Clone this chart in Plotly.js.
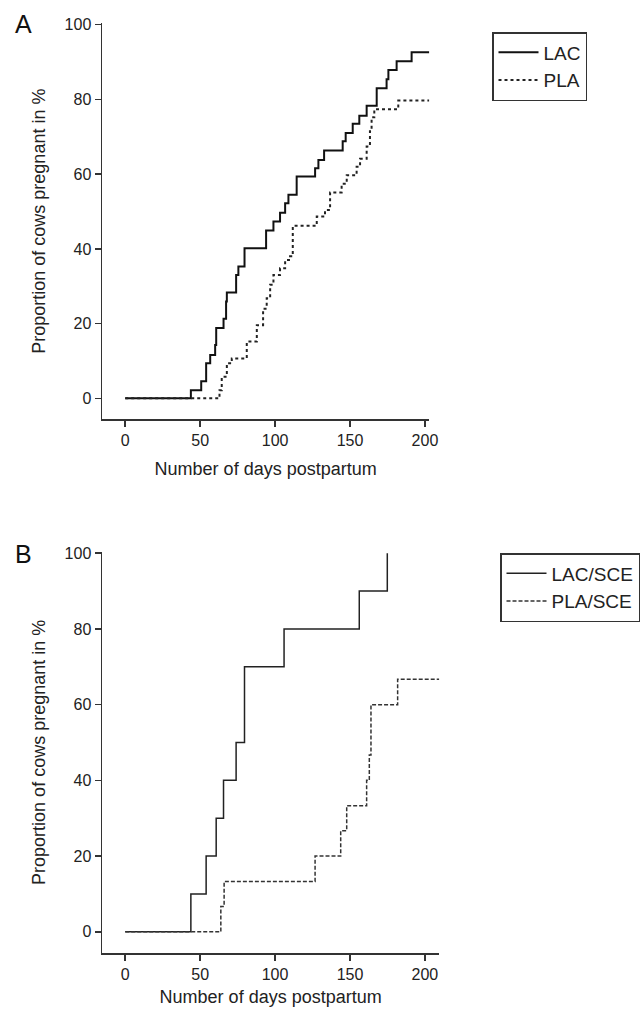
<!DOCTYPE html>
<html>
<head>
<meta charset="utf-8">
<script src="https://cdn.plot.ly/plotly-3.0.1.min.js"></script>
<style>html,body{margin:0;padding:0;background:#fff;}#chart{width:640px;height:1009px;}</style>
</head>
<body>
<div id="chart"></div>
<script>
// Panel A
const lacDays = [0, 43.8, 50.7, 54, 56.7, 60, 60.7, 65.6, 67.3, 67.8, 74, 75.5, 79.6, 94, 98.9, 103.3, 106.7, 108.9, 114.4, 126.7, 128.9, 132.7, 145.1, 147.1, 151.8, 156.2, 161.1, 167.8, 174.4, 175.6, 181.1, 191.1, 202.9];
const lacPct  = [0, 2.2, 4.6, 9.4, 11.6, 14.3, 18.8, 21.3, 25.9, 28.3, 33.0, 35.3, 40.2, 44.9, 47.3, 49.7, 52.2, 54.5, 59.4, 61.6, 63.8, 66.3, 68.8, 71.0, 73.5, 75.6, 78.3, 83.0, 85.4, 87.9, 90.2, 92.6, 92.6];
const plaDays = [0, 62.9, 64.4, 67.8, 71.1, 81.1, 87.8, 92, 94.4, 96.7, 98.9, 103.3, 106.7, 110, 111.8, 127.8, 133.3, 136.7, 144.4, 147.8, 154.4, 156.7, 161.1, 163.3, 164.4, 166.2, 182.2, 202.9];
const plaPct  = [0, 2.2, 5.8, 9.4, 10.7, 15.2, 19.6, 24.0, 26.8, 30.4, 33.0, 34.8, 37.0, 38.0, 46.2, 48.7, 50.4, 55.1, 57.4, 59.7, 62.0, 64.1, 67.4, 71.5, 75.2, 77.4, 79.7, 79.7];
// Panel B
const lacSceDays = [0, 43.8, 54, 60.7, 65.6, 74, 79.6, 106, 156.2, 174.9];
const lacScePct  = [0, 10, 20, 30, 40, 50, 70, 80, 90, 100];
const plaSceDays = [0, 63.8, 66, 126.7, 143.8, 147.8, 161.1, 162.9, 164, 181.8, 209.6];
const plaScePct  = [0, 6.7, 13.3, 20, 26.7, 33.3, 40, 46.7, 60, 66.7, 66.7];

const yTitle = 'Proportion of cows pregnant in %';
const xTitle = 'Number of days postpartum';

const W = 640, H = 1009;
const mL = 102, mT = 23, mB = 56, mR = 0;
const pw = W - mL - mR, ph = H - mT - mB;
const fx = px => (px - mL) / pw;
const fy = py => (H - mB - py) / ph;

const FONT = 'Liberation Sans, Arial, sans-serif';
const TXT = '#222';
const AX = '#333';

const traces = [
  {x: lacDays, y: lacPct, name: 'LAC', mode: 'lines', line: {shape: 'hv', color: '#111', width: 2}, xaxis: 'x', yaxis: 'y', legend: 'legend'},
  {x: plaDays, y: plaPct, name: 'PLA', mode: 'lines', line: {shape: 'hv', color: '#222', width: 2, dash: '3px,3px'}, xaxis: 'x', yaxis: 'y', legend: 'legend'},
  {x: lacSceDays, y: lacScePct, name: 'LAC/SCE', mode: 'lines', line: {shape: 'hv', color: '#222', width: 1.5}, xaxis: 'x2', yaxis: 'y2', legend: 'legend2'},
  {x: plaSceDays, y: plaScePct, name: 'PLA/SCE', mode: 'lines', line: {shape: 'hv', color: '#333', width: 1.5, dash: '4px,2px'}, xaxis: 'x2', yaxis: 'y2', legend: 'legend2'}
];

const axCommon = {
  showline: true, linecolor: AX, linewidth: 1.5, showgrid: false, zeroline: false,
  ticks: 'outside', ticklen: 6, tickwidth: 1.5, tickcolor: AX,
  tickfont: {family: FONT, size: 16, color: TXT}, fixedrange: true
};

const layout = {
  width: W, height: H,
  margin: {l: mL, r: mR, t: mT, b: mB},
  paper_bgcolor: '#fff', plot_bgcolor: '#fff',
  font: {family: FONT, color: TXT},
  showlegend: true,
  xaxis: Object.assign({}, axCommon, {
    domain: [0, fx(429.3)], range: [-15.5, 202.9], tick0: 0, dtick: 50, anchor: 'y',
    title: {text: xTitle, font: {family: FONT, size: 18, color: TXT}, standoff: 14}
  }),
  yaxis: Object.assign({}, axCommon, {
    domain: [fy(419.3), 1], range: [-5.6, 100.45], tick0: 0, dtick: 20, anchor: 'x',
    title: {text: yTitle, font: {family: FONT, size: 18, color: TXT}, standoff: 14}
  }),
  xaxis2: Object.assign({}, axCommon, {
    domain: [0, fx(439.3)], range: [-15.5, 209.6], tick0: 0, dtick: 50, anchor: 'y2',
    title: {text: xTitle, font: {family: FONT, size: 18, color: TXT}, standoff: 8}
  }),
  yaxis2: Object.assign({}, axCommon, {
    domain: [0, fy(551.7)], range: [-5.6, 100.4], tick0: 0, dtick: 20, anchor: 'x2',
    title: {text: yTitle, font: {family: FONT, size: 18, color: TXT}, standoff: 14}
  }),
  legend: {
    x: fx(492), y: fy(32), xanchor: 'left', yanchor: 'top',
    bordercolor: AX, borderwidth: 1.5, bgcolor: '#fff',
    font: {family: FONT, size: 19, color: TXT}, itemwidth: 40, tracegroupgap: 0
  },
  legend2: {
    x: fx(500), y: fy(553), xanchor: 'left', yanchor: 'top',
    bordercolor: AX, borderwidth: 1.5, bgcolor: '#fff',
    font: {family: FONT, size: 19, color: TXT}, itemwidth: 40, tracegroupgap: 0
  },
  annotations: [
    {text: 'A', xref: 'paper', yref: 'paper', x: fx(13), y: fy(8), xanchor: 'left', yanchor: 'top', showarrow: false, font: {family: FONT, size: 25, color: '#111'}},
    {text: 'B', xref: 'paper', yref: 'paper', x: fx(13), y: fy(538), xanchor: 'left', yanchor: 'top', showarrow: false, font: {family: FONT, size: 25, color: '#111'}}
  ]
};

Plotly.newPlot('chart', traces, layout, {staticPlot: true, displayModeBar: false});
</script>
</body>
</html>
